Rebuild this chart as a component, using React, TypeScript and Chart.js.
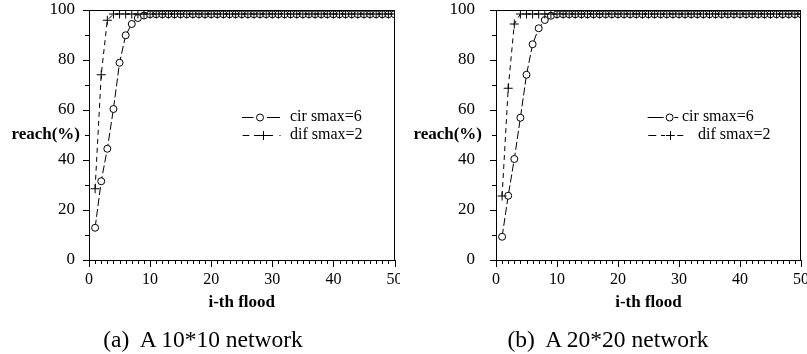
import React, { useEffect, useRef } from 'react';
import { Chart, registerables } from 'chart.js';
Chart.register(...registerables);

const floods = [1,2,3,4,5,6,7,8,9,10,11,12,13,14,15,16,17,18,19,20,21,22,23,24,25,26,27,28,29,30,31,32,33,34,35,36,37,38,39,40,41,42,43,44,45,46,47,48,49,50];

const cirA = [12.9,31.5,44.5,60.4,78.9,89.9,94.4,96.8,97.8,98.3,98.3,98.3,98.3,98.3,98.3,98.3,98.3,98.3,98.3,98.3,98.3,98.3,98.3,98.3,98.3,98.3,98.3,98.3,98.3,98.3,98.3,98.3,98.3,98.3,98.3,98.3,98.3,98.3,98.3,98.3,98.3,98.3,98.3,98.3,98.3,98.3,98.3,98.3,98.3,98.3];
const difA = [28.5,74.1,95.9,98.4,98.4,98.4,98.4,98.4,98.4,98.4,98.4,98.4,98.4,98.4,98.4,98.4,98.4,98.4,98.4,98.4,98.4,98.4,98.4,98.4,98.4,98.4,98.4,98.4,98.4,98.4,98.4,98.4,98.4,98.4,98.4,98.4,98.4,98.4,98.4,98.4,98.4,98.4,98.4,98.4,98.4,98.4,98.4,98.4,98.4,98.4];
const cirB = [9.3,25.7,40.4,56.9,74.1,86.3,92.7,96.0,97.7,98.3,98.3,98.3,98.3,98.3,98.3,98.3,98.3,98.3,98.3,98.3,98.3,98.3,98.3,98.3,98.3,98.3,98.3,98.3,98.3,98.3,98.3,98.3,98.3,98.3,98.3,98.3,98.3,98.3,98.3,98.3,98.3,98.3,98.3,98.3,98.3,98.3,98.3,98.3,98.3,98.3];
const difB = [25.6,68.7,94.4,98.4,98.4,98.4,98.4,98.4,98.4,98.4,98.4,98.4,98.4,98.4,98.4,98.4,98.4,98.4,98.4,98.4,98.4,98.4,98.4,98.4,98.4,98.4,98.4,98.4,98.4,98.4,98.4,98.4,98.4,98.4,98.4,98.4,98.4,98.4,98.4,98.4,98.4,98.4,98.4,98.4,98.4,98.4,98.4,98.4,98.4,98.4];

const seriesLabels = ['cir smax=6', 'dif smax=2'];
const xTitle = 'i-th flood';
const yTitle = 'reach(%)';
const captions = ['(a)  A 10*10 network', '(b)  A 20*20 network'];

const SERIF = "'Liberation Serif', 'DejaVu Serif', serif";
const CIR_DASH = [8, 3];
const DIF_DASH = [5, 4];

const framePlugin = {
  id: 'frame',
  afterDraw(chart: any, _args: any, opts: any) {
    const { ctx, chartArea } = chart;
    const { left, right, top, bottom } = chartArea;
    const xs = chart.scales.x;
    const ys = chart.scales.y;
    ctx.save();
    ctx.strokeStyle = '#000';
    ctx.fillStyle = '#000';
    ctx.lineWidth = 1;
    ctx.setLineDash([]);
    const L = Math.round(left);
    const T = Math.round(top);
    const B = Math.round(bottom);
    const R = Math.round(right);
    // top and right frame
    ctx.fillRect(L, T, R - L, 1);
    ctx.fillRect(R - 1, T, 1, B - T);
    // x ticks (hanging below axis)
    for (let v = 0; v <= 50; v++) {
      const px = Math.round(xs.getPixelForValue(v));
      const len = v % 10 === 0 ? 7 : 4;
      ctx.fillRect(px, B, 1, len);
    }
    // y ticks (left of axis)
    for (let v = 0; v <= 100; v += 10) {
      const py = Math.round(ys.getPixelForValue(v));
      const len = v % 20 === 0 ? 6 : 4;
      ctx.fillRect(L - len, py, len, 1);
    }
    // axis titles
    ctx.font = `bold 17px ${SERIF}`;
    ctx.textAlign = 'center';
    ctx.textBaseline = 'middle';
    ctx.fillText(xTitle, (left + right) / 2, 303);
    ctx.textAlign = 'right';
    ctx.fillText(yTitle, left + opts.yTitleDx, 135);
    // legend
    const ds = chart.data.datasets;
    opts.rows.forEach((r: any, i: number) => {
      const y = r.y + 0.5;
      ctx.beginPath();
      r.segs.forEach((s: number[]) => {
        ctx.moveTo(left + s[0], y);
        ctx.lineTo(left + s[1], y);
      });
      ctx.stroke();
      const cx = left + r.mx;
      if (i === 0) {
        ctx.beginPath();
        ctx.fillStyle = '#fff';
        ctx.arc(cx, y, 3.5, 0, Math.PI * 2);
        ctx.fill();
        ctx.stroke();
      } else {
        ctx.beginPath();
        ctx.moveTo(cx - 4.5, y);
        ctx.lineTo(cx + 4.5, y);
        ctx.moveTo(Math.round(cx) + 0.5, y - 4.5);
        ctx.lineTo(Math.round(cx) + 0.5, y + 4.5);
        ctx.stroke();
      }
      ctx.fillStyle = '#000';
      ctx.font = `16px ${SERIF}`;
      ctx.textAlign = 'left';
      ctx.textBaseline = 'middle';
      ctx.fillText(ds[i].label, left + r.tx, r.y);
    });
    ctx.restore();
  },
};

function makeConfig(cir: number[], dif: number[], leftW: number, padRight: number, yPad: number, frame: any) {
  return {
    type: 'line' as const,
    data: {
      labels: floods,
      datasets: [
        {
          label: seriesLabels[0],
          data: floods.map((f, i) => ({ x: f, y: cir[i] })),
          borderColor: '#000',
          borderWidth: 1,
          borderDash: CIR_DASH,
          pointStyle: 'circle',
          pointRadius: 3.5,
          pointBackgroundColor: '#fff',
          pointBorderColor: '#000',
          pointBorderWidth: 1,
          tension: 0,
          fill: false,
          order: 1,
        },
        {
          label: seriesLabels[1],
          data: floods.map((f, i) => ({ x: f, y: dif[i] })),
          borderColor: '#000',
          borderWidth: 1,
          borderDash: DIF_DASH,
          pointStyle: 'cross',
          pointRadius: 4.5,
          pointBackgroundColor: '#000',
          pointBorderColor: '#000',
          pointBorderWidth: 1,
          tension: 0,
          fill: false,
          order: 0,
        },
      ],
    },
    options: {
      animation: false,
      responsive: false,
      devicePixelRatio: 1,
      layout: { padding: { left: 0, right: padRight, top: 10, bottom: 0 } },
      plugins: {
        legend: { display: false },
        tooltip: { enabled: false },
        title: { display: false },
        frame,
      },
      scales: {
        x: {
          type: 'linear',
          min: 0,
          max: 50,
          grid: { display: false },
          border: { display: true, color: '#000', width: 1 },
          ticks: { stepSize: 10, color: '#000', padding: 2, maxRotation: 0, font: { family: SERIF, size: 16 } },
          afterFit(s: any) {
            s.height = 94;
            s.paddingLeft = 0;
            s.paddingRight = 0;
          },
        },
        y: {
          type: 'linear',
          min: 0,
          max: 100,
          grid: { display: false },
          border: { display: true, color: '#000', width: 1 },
          ticks: { stepSize: 20, color: '#000', padding: yPad, font: { family: SERIF, size: 17 } },
          afterFit(s: any) {
            s.width = leftW;
            s.paddingTop = 0;
            s.paddingBottom = 0;
          },
        },
      },
    },
    plugins: [framePlugin],
  };
}

function Panel({ cir, dif, width, leftW, padRight, yPad, frame, left }: any) {
  const ref = useRef<HTMLCanvasElement>(null);
  useEffect(() => {
    if (!ref.current) return;
    const chart = new Chart(ref.current, makeConfig(cir, dif, leftW, padRight, yPad, frame) as any);
    return () => chart.destroy();
  }, []);
  return (
    <canvas
      ref={ref}
      width={width}
      height={354}
      style={{ position: 'absolute', left, top: 0, width, height: 354 }}
    />
  );
}

export default function App() {
  const capStyle: any = {
    position: 'absolute',
    top: 325,
    width: 300,
    textAlign: 'center',
    fontFamily: SERIF,
    fontSize: 23.5,
    lineHeight: '28px',
    whiteSpace: 'pre',
    color: '#000',
  };
  const frameA = {
    yTitleDx: -9,
    rows: [
      { y: 117, segs: [[153, 164.5], [178, 191]], mx: 171, tx: 201 },
      { y: 135, segs: [[153.7, 160.3], [165, 170], [178, 184], [190.5, 191.5]], mx: 174.3, tx: 201 },
    ],
  };
  const frameB = {
    yTitleDx: -14,
    rows: [
      { y: 117, segs: [[151.6, 167.6], [178.3, 182.3]], mx: 173.6, tx: 186 },
      { y: 135, segs: [[152.3, 160.3], [165, 169], [181.3, 187.3]], mx: 174.3, tx: 202 },
    ],
  };
  return (
    <div style={{ position: 'absolute', left: 0, top: 0, width: 807, height: 354, background: '#fff', overflow: 'hidden' }}>
      <Panel cir={cirA} dif={difA} width={400} leftW={89} padRight={2} yPad={6} left={0} frame={frameA} />
      <Panel cir={cirB} dif={difB} width={407} leftW={96} padRight={6} yPad={13} left={400} frame={frameB} />
      <div style={{ ...capStyle, left: 203 - 150 }}>{captions[0]}</div>
      <div style={{ ...capStyle, left: 608 - 150 }}>{captions[1]}</div>
    </div>
  );
}
